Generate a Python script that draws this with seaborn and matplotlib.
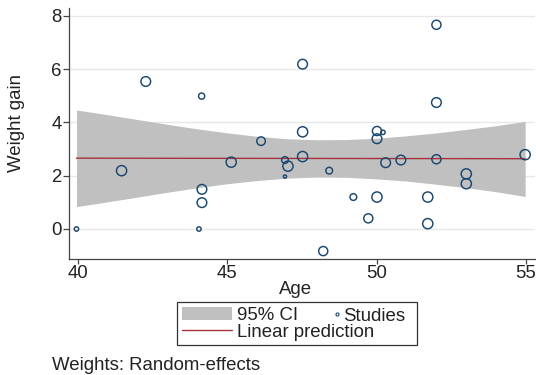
import numpy as np
import pandas as pd
import matplotlib
matplotlib.use("Agg")
import matplotlib.pyplot as plt
import seaborn as sns
from matplotlib.patches import Patch
from matplotlib.lines import Line2D

# ---- data ----
age = [39.95, 41.46, 42.27, 44.14, 44.05, 44.15, 44.15, 45.13, 46.13, 46.93,
       47.03, 46.93, 47.52, 47.52, 47.52, 48.41, 48.21, 49.22, 49.72, 50.01,
       50.01, 50.01, 50.21, 50.30, 50.81, 52.00, 52.00, 52.00, 51.71, 51.71,
       53.00, 53.00, 54.97]
gain = [0.00, 2.19, 5.54, 4.99, 0.00, 1.49, 0.99, 2.51, 3.30, 2.59,
        2.36, 1.97, 6.19, 3.65, 2.72, 2.19, -0.83, 1.20, 0.40, 1.20,
        3.68, 3.39, 3.63, 2.49, 2.59, 7.67, 4.75, 2.62, 1.20, 0.20,
        2.07, 1.70, 2.79]
weight = [0.55, 3.0, 2.7, 1.1, 0.55, 2.7, 2.7, 3.0, 2.1, 1.3,
          3.0, 0.3, 2.7, 3.0, 3.0, 1.3, 2.4, 1.3, 2.4, 3.0,
          2.4, 2.7, 0.55, 2.7, 2.7, 2.4, 2.7, 2.4, 3.0, 3.0,
          3.0, 3.0, 3.0]

band_age = [39.95, 41, 42, 43, 44, 45, 46, 47, 48, 49, 50, 51, 52, 53, 54, 54.97]
band_lo = [0.84, 1.02, 1.20, 1.38, 1.55, 1.70, 1.82, 1.91, 1.95, 1.94, 1.88,
           1.80, 1.68, 1.55, 1.40, 1.22]
band_hi = [4.47, 4.29, 4.11, 3.93, 3.76, 3.61, 3.48, 3.39, 3.35, 3.36, 3.41,
           3.50, 3.61, 3.74, 3.88, 4.04]

pred_age = [39.95, 54.97]
pred = [2.66, 2.64]

xticks = [40, 45, 50, 55]
yticks = [0, 2, 4, 6, 8]

# ---- styling ----
sns.set_theme(style="white")
plt.rcParams['font.family'] = ['Liberation Sans', 'DejaVu Sans']
FS = 13.4
NAVY = '#1a476f'
RED = '#a8323a'
BAND = '#c0c0c0'
AXC = '#444444'

fig = plt.figure(figsize=(5.36, 3.75), dpi=100)
ax = fig.add_axes([69/536, (375-259)/375, (535-69)/536, (259-8)/375])

ax.fill_between(band_age, band_lo, band_hi, color=BAND, linewidth=0, zorder=1)

line_df = pd.DataFrame({"age": pred_age, "pred": pred})
sns.lineplot(data=line_df, x="age", y="pred", ax=ax, color=RED, linewidth=1.0,
             zorder=2, legend=False)

df = pd.DataFrame({"age": age, "gain": gain, "weight": weight})
sns.scatterplot(data=df, x="age", y="gain", size="weight",
                sizes=(0, 54.0), size_norm=(0, 3.0),
                facecolors="none", edgecolor=NAVY, linewidth=1.05,
                ax=ax, legend=False, zorder=3)
for coll in ax.collections[1:]:
    coll.set_facecolor("none")
    coll.set_edgecolor(NAVY)

ax.set_xlim(39.70, 55.30)
ax.set_ylim(-1.127, 8.30)
ax.set_xticks(xticks)
ax.set_yticks(yticks)
ax.set_xticklabels([str(t) for t in xticks], fontsize=FS)
ax.set_yticklabels([str(t) for t in yticks], fontsize=FS)
ax.yaxis.grid(True, color='#e8e8e8', linewidth=1.0)
ax.set_axisbelow(True)
for s in ['top', 'right']:
    ax.spines[s].set_visible(False)
for s in ['left', 'bottom']:
    ax.spines[s].set_color(AXC)
    ax.spines[s].set_linewidth(0.9)
ax.tick_params(axis='both', colors=AXC, labelcolor='#222222', width=0.9)
ax.tick_params(axis='y', length=4.3, pad=1.0, left=True)
ax.tick_params(axis='x', length=3.6, pad=0.5, bottom=True)

ax.set_xlabel("Age", fontsize=FS, color='#222222')
ax.set_ylabel("Weight gain", fontsize=FS, color='#222222')
ax.xaxis.set_label_coords((296-69)/466, (259-281.5)/251)
ax.yaxis.set_label_coords((25.5-69)/466, (259-122.5)/251)

# legend: framed box with CI and line
h_ci = Patch(facecolor=BAND, edgecolor='none')
h_line = Line2D([], [], color=RED, linewidth=1.0)
leg1 = fig.legend([h_ci, h_line], ["95% CI", "Linear prediction"],
                  loc='upper left', mode='expand',
                  bbox_to_anchor=(177/536, (375-302)/375, 240/536, 0.0),
                  borderaxespad=0, borderpad=0.25, fontsize=FS,
                  handlelength=2.69, handleheight=0.7, handletextpad=0.27,
                  labelspacing=0.0, frameon=True, fancybox=False,
                  edgecolor='#333333', framealpha=1)
leg1.get_frame().set_linewidth(0.9)
for t in leg1.get_texts():
    t.set_color('#222222')

h_st = Line2D([], [], linestyle='none', marker='o', markersize=2.2,
              markerfacecolor='none', markeredgecolor=NAVY, markeredgewidth=0.8)
leg2 = fig.legend([h_st], ["Studies"], loc='center left',
                  bbox_to_anchor=(333/536, (375-316.3)/375),
                  borderaxespad=0, borderpad=0, fontsize=FS,
                  handlelength=0.4, handletextpad=0.15, frameon=False)
for t in leg2.get_texts():
    t.set_color('#222222')

fig.text(51.7/536, (375-370)/375, "Weights: Random-effects", fontsize=FS,
         color='#222222', va='baseline', ha='left')

fig.savefig("out.png", dpi=100)
